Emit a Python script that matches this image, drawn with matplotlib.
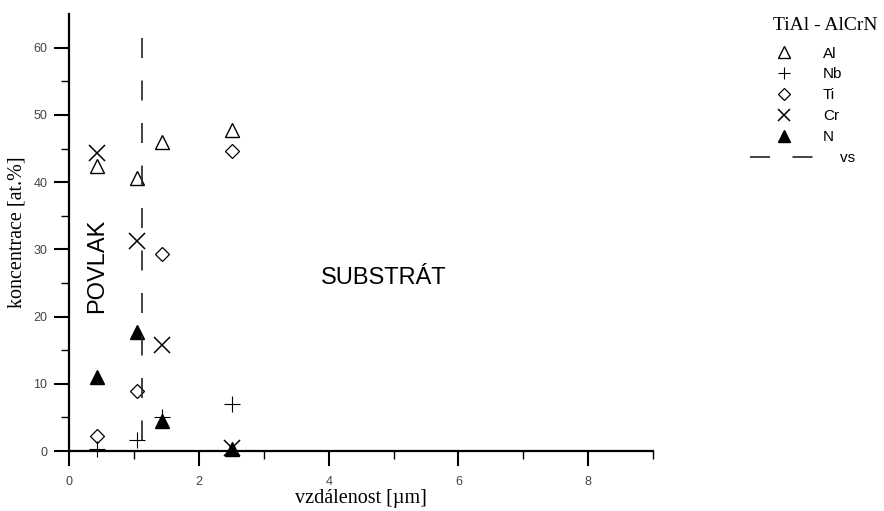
""" Concentration profile across the TiAl - AlCrN coating. """

import matplotlib
matplotlib.use('Agg')
import matplotlib.pyplot as plt

# Measured points (distance in um, concentration in at.%).
distance = [0.43, 1.04, 1.43, 2.51]
al = [42.4, 40.6, 46.0, 47.8]
nb = [0.3, 1.6, 5.0, 7.0]
ti = [2.2, 8.9, 29.3, 44.7]
cr = [44.3, 31.3, 15.7, 0.4]
n = [11.0, 17.7, 4.4, 0.3]

# Coating / substrate boundary.
vs_x = [1.12, 1.12]
vs_y = [61.5, 0]

x_ticks = [0, 2, 4, 6, 8]
y_ticks = [0, 10, 20, 30, 40, 50, 60]

plt.rcParams['font.family'] = ['Liberation Sans', 'DejaVu Sans']

fig = plt.figure(figsize=(8.84, 5.11), dpi=100)
ax = fig.add_axes([0.0786, 0.1174, 0.66, 0.855])

ax.plot(distance, al, ls='none', marker='^', ms=9.5, mfc='none', mec='black',
        mew=1.0, clip_on=False, label='Al')
ax.plot(distance, nb, ls='none', marker='+', ms=11, mec='black',
        mew=0.8, clip_on=False, label='Nb')
ax.plot(distance, ti, ls='none', marker='D', ms=7.5, mfc='none', mec='black',
        mew=0.9, clip_on=False, label='Ti')
ax.plot(distance, cr, ls='none', marker='x', ms=11, mec='black',
        mew=1.1, clip_on=False, label='Cr')
ax.plot(distance, n, ls='none', marker='^', ms=9.5, mfc='black', mec='black',
        mew=1.0, clip_on=False, label='N')
ax.plot(vs_x, vs_y, color='#222222', lw=1.2, ls=(0, (12, 13.5)),
        label='    vs')

ax.set_xlim(0, 9)
ax.set_ylim(0, 65)
ax.set_xticks(x_ticks)
ax.set_yticks(y_ticks)
ax.set_xticks([1, 3, 5, 7, 9], minor=True)
ax.set_yticks([5, 15, 25, 35, 45, 55], minor=True)

for side in ('top', 'right'):
    ax.spines[side].set_visible(False)
for side in ('left', 'bottom'):
    ax.spines[side].set_linewidth(1.6)

ax.tick_params(which='major', length=11, width=1.5, labelsize=9,
               labelcolor='#444444')
ax.tick_params(axis='x', which='major', pad=7)
ax.tick_params(axis='y', which='major', pad=5)
ax.tick_params(which='minor', length=6, width=1.0)

ax.set_xlabel('vzdálenost [µm]', family='Liberation Serif', fontsize=14.5,
              labelpad=1)
ax.set_ylabel('koncentrace [at.%]', family='Liberation Serif', fontsize=14.5,
              labelpad=5)

ax.text(0.43, 27.5, 'POVLAK', rotation=90, fontsize=17, ha='center',
        va='center')
ax.text(4.84, 25.7, 'SUBSTRÁT', fontsize=17, ha='center', va='center')

# Legend sits outside the plot area, on the right.
handles, labels = ax.get_legend_handles_labels()
leg = fig.legend(handles, labels, loc='upper left',
                 bbox_to_anchor=(0.848, 0.909), frameon=False,
                 fontsize=11, handlelength=4.45, handletextpad=0.35,
                 labelspacing=0.45, borderpad=0, borderaxespad=0,
                 numpoints=1, markerscale=0.85)
fig.text(0.934, 0.951, 'TiAl - AlCrN', family='Liberation Serif', fontsize=14,
         ha='center', va='center')

fig.savefig('out.png', dpi=100)
